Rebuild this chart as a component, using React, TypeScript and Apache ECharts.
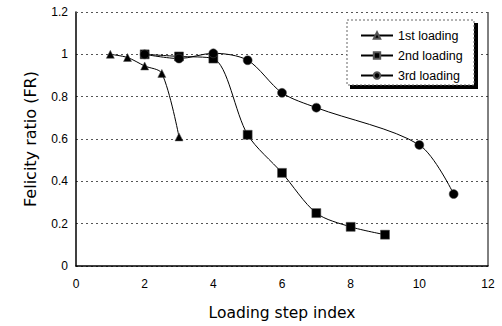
import React, { useEffect, useRef } from "react";
import * as echarts from "echarts";

const seriesNames = ["1st loading", "2nd loading", "3rd loading"];
const firstX = [1, 1.5, 2, 2.5, 3];
const firstY = [1.0, 0.985, 0.945, 0.91, 0.61];
const secondX = [2, 3, 4, 5, 6, 7, 8, 9];
const secondY = [1.0, 0.99, 0.98, 0.62, 0.44, 0.25, 0.185, 0.148];
const thirdX = [2, 3, 4, 5, 6, 7, 10, 11];
const thirdY = [1.0, 0.98, 1.005, 0.972, 0.818, 0.748, 0.572, 0.34];
const symbols = ["triangle", "rect", "circle"];
const symbolSizes = [8, 9, 9];

const FONT = "'Liberation Sans', Arial, sans-serif";
const TITLE_FONT = "'DejaVu Sans', sans-serif";

export default function App() {
  const ref = useRef<HTMLDivElement>(null);
  useEffect(() => {
    if (!ref.current) return;
    const chart = echarts.init(ref.current, null, { renderer: "svg" });
    const xs = [firstX, secondX, thirdX];
    const ys = [firstY, secondY, thirdY];
    chart.setOption({
      animation: false,
      backgroundColor: "#fff",
      grid: { left: 76, right: 14, top: 12, bottom: 60, show: false, containLabel: false, outerBoundsMode: "none" },
      xAxis: {
        type: "value",
        min: 0,
        max: 12,
        interval: 2,
        name: "Loading step index",
        nameLocation: "middle",
        nameGap: 39,
        nameTextStyle: { fontFamily: TITLE_FONT, fontSize: 15.5, color: "#000" },
        axisLine: { show: true, lineStyle: { color: "#000", width: 1.5 } },
        axisTick: { show: false },
        axisLabel: { fontFamily: FONT, fontSize: 12, color: "#000", margin: 12 },
        splitLine: { show: false },
      },
      yAxis: {
        type: "value",
        min: 0,
        max: 1.2,
        interval: 0.2,
        name: "Felicity ratio (FR)",
        nameLocation: "middle",
        nameGap: 38,
        nameTextStyle: { fontFamily: TITLE_FONT, fontSize: 16, color: "#000" },
        axisLine: { show: true, lineStyle: { color: "#000", width: 1.5 } },
        axisTick: { show: false },
        axisLabel: {
          fontFamily: FONT,
          fontSize: 12,
          color: "#000",
          margin: 8,
          formatter: (v: number) => String(Math.round(v * 10) / 10),
        },
        splitLine: { show: true, lineStyle: { color: "#555", type: [2, 3], width: 1 } },
      },
      legend: {
        show: true,
        orient: "vertical",
        left: 355,
        top: 24,
        itemGap: 7,
        itemWidth: 32,
        itemHeight: 8,
        z: 10,
        textStyle: { fontFamily: FONT, fontSize: 12.5, color: "#000" },
        data: seriesNames,
      },
      graphic: [
        {
          type: "rect",
          z: 5,
          shape: { x: 350, y: 23, width: 128, height: 66 },
          style: { fill: "#000" },
        },
        {
          type: "rect",
          z: 6,
          shape: { x: 347, y: 20, width: 127, height: 65 },
          style: { fill: "#fff", stroke: "#666", lineWidth: 1, lineDash: [2, 2] },
        },
        {
          type: "line",
          z: 4,
          shape: { x1: 488, y1: 12, x2: 488, y2: 266 },
          style: { stroke: "#000", lineWidth: 1 },
        },
      ],
      series: seriesNames.map((name, i) => ({
        name,
        type: "line",
        smooth: 0.3,
        symbol: symbols[i],
        symbolSize: symbolSizes[i],
        showAllSymbol: true,
        lineStyle: { color: "#000", width: 1 },
        itemStyle: { color: "#000", borderColor: "#555", borderWidth: 0.5 },
        data: xs[i].map((x, j) => [x, ys[i][j]]),
        markLine:
          i === 0
            ? {
                silent: true,
                symbol: "none",
                label: { show: false },
                lineStyle: { color: "#555", type: [2, 3], width: 1 },
                data: [{ yAxis: 1.2 }],
              }
            : undefined,
      })),
    });
    return () => chart.dispose();
  }, []);
  return <div ref={ref} style={{ width: 502, height: 326, position: "absolute", left: 0, top: 0 }} />;
}
